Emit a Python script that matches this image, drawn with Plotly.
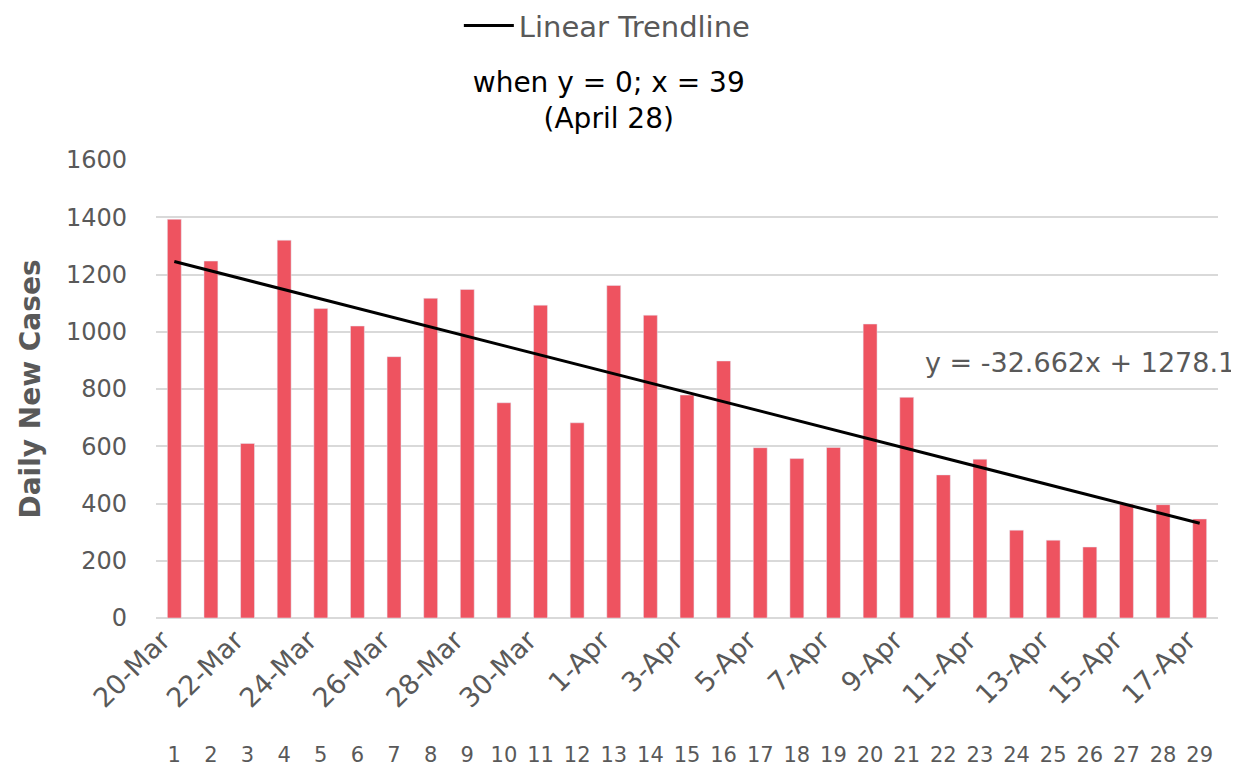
import plotly.graph_objs as go

# Daily new cases, 20-Mar .. 17-Apr
days = list(range(1, 30))
dates = ['20-Mar', '21-Mar', '22-Mar', '23-Mar', '24-Mar', '25-Mar', '26-Mar', '27-Mar',
         '28-Mar', '29-Mar', '30-Mar', '31-Mar', '1-Apr', '2-Apr', '3-Apr', '4-Apr',
         '5-Apr', '6-Apr', '7-Apr', '8-Apr', '9-Apr', '10-Apr', '11-Apr', '12-Apr',
         '13-Apr', '14-Apr', '15-Apr', '16-Apr', '17-Apr']
new_cases = [1393, 1247, 610, 1320, 1081, 1020, 913, 1117, 1148, 752, 1093, 682, 1162, 1058,
             779, 898, 595, 557, 596, 1027, 771, 500, 555, 307, 272, 248, 398, 396, 346]

# trendline coefficients as shown on the chart
slope = -32.662
intercept = 1278.1

FONT = 'DejaVu Sans'
GREY = '#595959'

fig = go.Figure()

# bars
fig.add_trace(go.Bar(
    x=days, y=new_cases,
    marker=dict(color='#EE5360'),
    width=0.38,
    showlegend=False,
    xaxis='x', yaxis='y'
))

# linear trendline
trend_x = [days[0], days[-1]]
trend_y = [slope * d + intercept for d in trend_x]
fig.add_trace(go.Scatter(
    x=trend_x, y=trend_y,
    mode='lines',
    line=dict(color='black', width=3),
    name='Linear Trendline',
    xaxis='x2', yaxis='y'
))

x_range = [0.5, 29.5]

# page body adds an 8px margin, so the figure is 8px smaller than the window
fig.update_layout(
    width=1231, height=762,
    paper_bgcolor='white', plot_bgcolor='white',
    margin=dict(l=148, r=21, t=152, b=30),
    font=dict(family=FONT, color=GREY),
    title=dict(
        text='when y = 0; x = 39<br>(April 28)',
        x=0.488, xanchor='center', y=0.89, yanchor='middle',
        font=dict(size=28, color='black', family=FONT)
    ),
    legend=dict(
        orientation='h', x=0.425, xanchor='center', y=0.977, yanchor='middle',
        yref='container', itemwidth=50, font=dict(size=29, color=GREY)
    ),
    xaxis=dict(
        range=x_range, domain=[0, 1],
        tickvals=days[::2], ticktext=dates[::2],
        tickangle=-45, tickfont=dict(size=27, color=GREY),
        ticklabelshift=-12,
        showgrid=False, ticks='', showline=False, zeroline=False,
        anchor='y', automargin=False
    ),
    xaxis2=dict(
        range=x_range, overlaying='x', anchor='free', position=0, side='bottom',
        tickvals=days, ticktext=[str(d) for d in days],
        tickfont=dict(size=21, color=GREY),
        showgrid=False, ticks='', showline=False, zeroline=False,
        automargin=False
    ),
    yaxis=dict(
        range=[0, 1600], dtick=200, domain=[0.2103, 1],
        tickfont=dict(size=24, color=GREY),
        gridcolor='#D9D9D9', gridwidth=1.5,
        zeroline=True, zerolinecolor='#D9D9D9', zerolinewidth=1.5,
        ticks='', ticklabelstandoff=28, automargin=False,
        title=dict(text='<b>Daily New Cases</b>', font=dict(size=28, color=GREY), standoff=17)
    ),
    annotations=[dict(
        text='y = -32.662x + 1278.1',
        x=21.45, y=894, xref='x2', yref='y',
        xanchor='left', yanchor='middle', showarrow=False,
        font=dict(size=27, color=GREY)
    )]
)

fig.write_html("out.html")
